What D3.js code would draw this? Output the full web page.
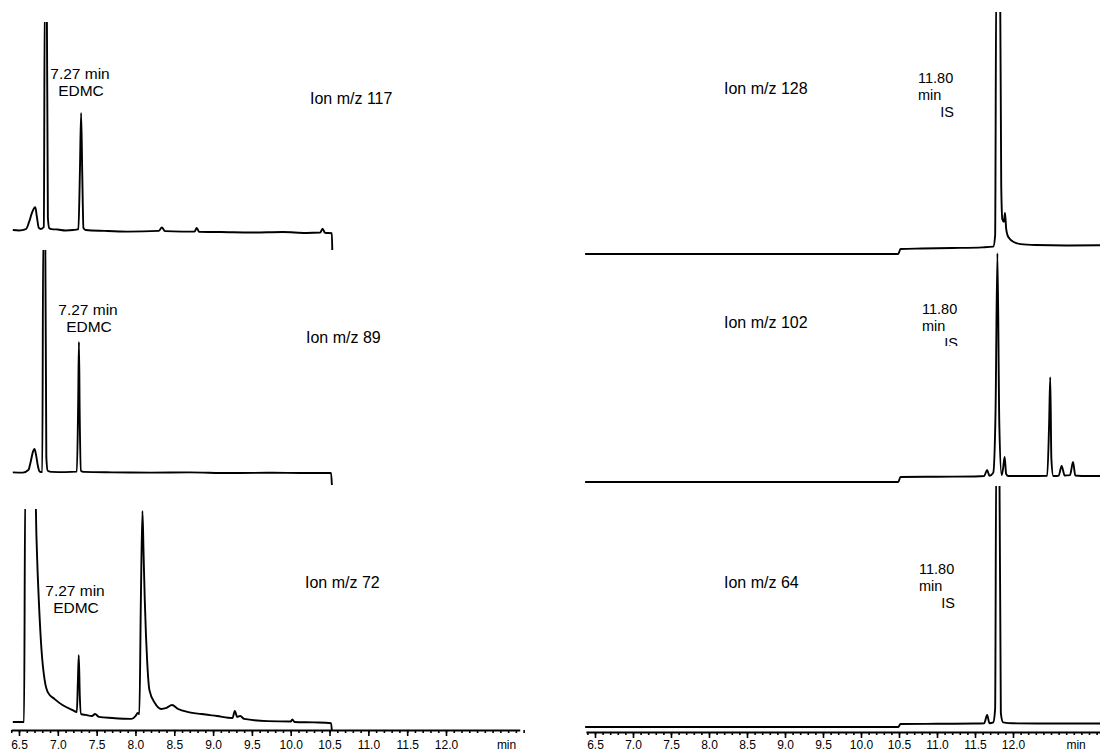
<!DOCTYPE html>
<html>
<head>
<meta charset="utf-8">
<script src="https://cdn.jsdelivr.net/npm/d3@7"></script>
<style>
  body { margin: 0; background: #fff; }
  svg { display: block; }
  text { font-family: "Liberation Sans", Arial, sans-serif; fill: #000; }
</style>
</head>
<body>
<svg id="chart"></svg>
<script>
// retention time (min) and relative abundance
const t117 = [6.42, 6.50, 6.59, 6.63, 6.67, 6.71, 6.73, 6.755, 6.78, 6.82, 6.832, 6.858, 6.872, 6.89, 6.92, 7.00, 7.10, 7.20, 7.265, 7.285, 7.30, 7.315, 7.33, 7.36, 7.6, 7.9, 8.30, 8.34, 8.38, 8.6, 8.76, 8.79, 8.82, 9.1, 9.5, 9.9, 10.2, 10.38, 10.41, 10.44, 10.53, 10.535];
const i117 = [8.7, 8.5, 9.1, 12.2, 16.5, 18.6, 14.5, 9.6, 9.1, 10, 110, 110, 14, 9.5, 9.1, 8.9, 8.5, 8.7, 9.1, 34.8, 59.6, 32.6, 9.6, 8.7, 8.3, 8.0, 8.3, 9.8, 8.2, 8.0, 8.0, 9.6, 7.9, 7.8, 7.6, 7.8, 7.4, 7.6, 9.3, 7.5, 7.3, 0];

const t89 = [6.42, 6.55, 6.62, 6.65, 6.68, 6.70, 6.72, 6.745, 6.765, 6.80, 6.812, 6.838, 6.852, 6.87, 6.92, 7.1, 7.245, 7.262, 7.272, 7.282, 7.298, 7.33, 7.7, 8.2, 8.7, 9.2, 9.7, 10.2, 10.52, 10.53];
const i89 = [5.5, 5.4, 6.5, 10, 14.5, 15.7, 13, 8, 5.8, 5.6, 110, 110, 12, 6.2, 5.7, 5.6, 5.8, 35, 62.2, 30, 6.2, 5.7, 5.5, 5.4, 5.5, 5.2, 5.3, 5.2, 5.2, 0];

const t72 = [6.42, 6.565, 6.58, 6.71, 6.725, 6.74, 6.755, 6.79, 6.83, 6.87, 6.96, 7.06, 7.19, 7.245, 7.258, 7.27, 7.283, 7.30, 7.36, 7.44, 7.48, 7.53, 7.7, 7.95, 8.0, 8.03, 8.05, 8.07, 8.09, 8.105, 8.12, 8.135, 8.15, 8.18, 8.25, 8.33, 8.40, 8.47, 8.55, 8.68, 8.85, 9.05, 9.25, 9.28, 9.31, 9.35, 9.40, 9.7, 10.0, 10.02, 10.05, 10.3, 10.52, 10.53];
const i72 = [4.1, 4.1, 110, 110, 88, 72, 59.5, 36.8, 23.2, 17.7, 14.5, 11.8, 9.5, 8.6, 22, 34.5, 16, 7.7, 7.3, 6.8, 7.7, 6.4, 5.9, 5.5, 6.8, 8.2, 7.7, 60, 100, 80, 59.5, 44, 32.3, 18.6, 12.7, 10, 10.5, 11.8, 10, 8.6, 7.7, 6.8, 5.9, 9.1, 6.4, 6.8, 5.5, 4.5, 4.3, 5.2, 4.1, 3.9, 3.6, 0];

const t128 = [6.37, 10.49, 10.52, 10.8, 11.2, 11.6, 11.74, 11.765, 11.78, 11.83, 11.845, 11.86, 11.88, 11.895, 11.91, 11.93, 11.96, 12.01, 12.1, 12.3, 12.7, 13.3];
const i128 = [0, 0, 2.2, 2.4, 2.6, 2.9, 3.2, 8, 120, 120, 30, 15, 14, 17.8, 11, 8, 6.5, 5.2, 4.3, 3.9, 3.7, 3.8];

const t102 = [6.37, 10.49, 10.52, 11.0, 11.5, 11.62, 11.66, 11.69, 11.74, 11.77, 11.795, 11.82, 11.85, 11.87, 11.89, 11.91, 11.94, 12.2, 12.45, 12.475, 12.49, 12.505, 12.53, 12.6, 12.64, 12.68, 12.75, 12.79, 12.82, 12.9, 13.3];
const i102 = [0, 0, 2.2, 2.3, 2.4, 2.6, 5.2, 2.7, 4, 30, 99.5, 25, 3, 6, 10.9, 3.5, 2.6, 2.6, 2.7, 25, 45.6, 10, 2.6, 2.7, 7, 2.8, 3, 8.7, 2.8, 2.6, 2.6];

const t64 = [6.37, 10.49, 10.52, 11.0, 11.5, 11.62, 11.66, 11.69, 11.74, 11.765, 11.78, 11.82, 11.84, 11.87, 12.0, 12.5, 13.3];
const i64 = [0, 0, 1.3, 1.4, 1.5, 1.6, 5.2, 1.6, 2, 8, 120, 120, 6, 2.0, 1.6, 1.5, 1.5];

const majorTicks = [6.5, 7.0, 7.5, 8.0, 8.5, 9.0, 9.5, 10.0, 10.5, 11.0, 11.5, 12.0];
const tickLabels = ["6.5", "7.0", "7.5", "8.0", "8.5", "9.0", "9.5", "10.0", "10.5", "11.0", "11.5", "12.0"];

const WIDTH = 1100;
const HEIGHT = 753;

const svg = d3.select('#chart')
    .attr('width', WIDTH)
    .attr('height', HEIGHT);

// two time axes, one per column
const xLeft = d3.scaleLinear().domain([6.5, 12.0]).range([19, 446]);
const xRight = d3.scaleLinear().domain([6.5, 12.0]).range([595, 1013]);

const panels = [
    {id: 'p117', t: t117, v: i117, x: xLeft, y0: 250, y1: 20, clipTop: 22,
     ion: 'Ion m/z 117', ionX: 310, ionY: 104,
     peak: ['7.27 min', 'EDMC'], peakX: 80, peakY: 79},
    {id: 'p89', t: t89, v: i89, x: xLeft, y0: 485, y1: 255, clipTop: 250,
     ion: 'Ion m/z 89', ionX: 306, ionY: 343,
     peak: ['7.27 min', 'EDMC'], peakX: 88, peakY: 315},
    {id: 'p72', t: t72, v: i72, x: xLeft, y0: 731, y1: 511, clipTop: 509,
     ion: 'Ion m/z 72', ionX: 305, ionY: 588,
     peak: ['7.27 min', 'EDMC'], peakX: 75, peakY: 596},
    {id: 'p128', t: t128, v: i128, x: xRight, y0: 254, y1: 24, clipTop: 12,
     ion: 'Ion m/z 128', ionX: 724, ionY: 94, isX: 918, isY: 83},
    {id: 'p102', t: t102, v: i102, x: xRight, y0: 482, y1: 252, clipTop: 240,
     ion: 'Ion m/z 102', ionX: 724, ionY: 328, isX: 922, isY: 314, isCut: 346},
    {id: 'p64', t: t64, v: i64, x: xRight, y0: 727, y1: 497, clipTop: 486,
     ion: 'Ion m/z 64', ionX: 724, ionY: 588, isX: 919, isY: 574}
];

const defs = svg.append('defs');

panels.forEach(p => {
    const y = d3.scaleLinear().domain([0, 100]).range([p.y0, p.y1]);
    const x0 = p.x === xLeft ? 0 : 560;

    defs.append('clipPath').attr('id', 'clip-' + p.id)
        .append('rect')
        .attr('x', x0).attr('y', p.clipTop)
        .attr('width', 545).attr('height', p.y0 - p.clipTop + 4);

    const line = d3.line()
        .x((d, i) => p.x(p.t[i]))
        .y(d => y(d))
        .curve(d3.curveMonotoneX);

    svg.append('path')
        .datum(p.v)
        .attr('clip-path', 'url(#clip-' + p.id + ')')
        .attr('d', line)
        .style('fill', 'none')
        .style('stroke', 'black')
        .style('stroke-width', 1.9)
        .style('stroke-linejoin', 'round');

    svg.append('text')
        .attr('x', p.ionX).attr('y', p.ionY)
        .style('font-size', '16px')
        .text(p.ion);

    if (p.peak) {
        p.peak.forEach((s, k) => {
            svg.append('text')
                .attr('x', p.peakX + (k ? 1 : 0)).attr('y', p.peakY + k * 17)
                .attr('text-anchor', 'middle')
                .style('font-size', '15.5px')
                .text(s);
        });
    }

    if (p.isX) {
        const g = svg.append('g');
        if (p.isCut) {
            defs.append('clipPath').attr('id', 'cut-' + p.id)
                .append('rect').attr('x', p.isX - 10).attr('y', p.isY - 20)
                .attr('width', 60).attr('height', p.isCut - p.isY + 20);
            g.attr('clip-path', 'url(#cut-' + p.id + ')');
        }
        g.append('text').attr('x', p.isX).attr('y', p.isY)
            .style('font-size', '14.5px').text('11.80');
        g.append('text').attr('x', p.isX).attr('y', p.isY + 17)
            .style('font-size', '14.5px').text('min');
        g.append('text').attr('x', p.isX + 36).attr('y', p.isY + 34)
            .attr('text-anchor', 'end')
            .style('font-size', '14.5px').text('IS');
    }
});

// bottom time axes
function drawAxis(x, lo, hi, yPos, minX) {
    const ax = d3.scaleLinear().domain([lo, hi]).range([x(lo), x(hi)]);
    const minor = d3.range(Math.round(lo * 10), Math.round(hi * 10) + 1).map(d => d / 10);

    const gMinor = svg.append('g')
        .attr('transform', 'translate(0,' + yPos + ')')
        .call(d3.axisBottom(ax).tickValues(minor).tickSize(3).tickSizeOuter(0).tickFormat(''));
    gMinor.select('.domain').style('stroke-width', 2);
    gMinor.selectAll('.tick line').style('stroke-width', 1.6);

    const gMajor = svg.append('g')
        .attr('transform', 'translate(0,' + yPos + ')')
        .call(d3.axisBottom(ax).tickValues(majorTicks).tickSize(6).tickSizeOuter(0)
            .tickFormat((d, i) => tickLabels[i]));
    gMajor.select('.domain').remove();
    gMajor.selectAll('.tick line').style('stroke-width', 1.6);
    gMajor.selectAll('.tick text')
        .attr('y', 749 - yPos)
        .attr('dy', 0)
        .style('font-size', '12px')
        .style('font-family', '"Liberation Sans", Arial, sans-serif');

    svg.append('text')
        .attr('x', x(minX)).attr('y', 749)
        .attr('text-anchor', 'middle')
        .style('font-size', '12px')
        .text('min');
}

drawAxis(xLeft, 6.4, 12.95, 730, 12.78);
drawAxis(xRight, 6.38, 13.3, 732, 12.83);
</script>
</body>
</html>
